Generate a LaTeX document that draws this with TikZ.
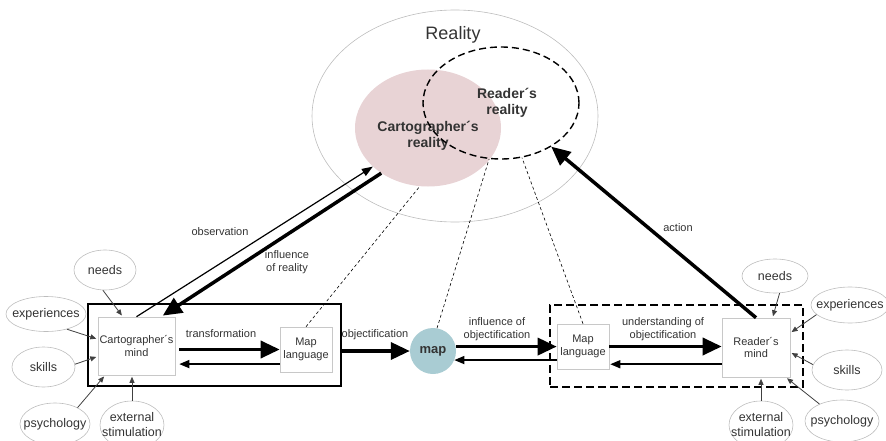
\documentclass[tikz,border=0pt]{standalone}
\usepackage{fontspec}
\setmainfont{Liberation Sans}
\usetikzlibrary{shapes.geometric,arrows.meta}
\definecolor{txt}{HTML}{333333}
\definecolor{ringgrey}{HTML}{BDBDBD}
\definecolor{boxgrey}{HTML}{C8C8C8}
\definecolor{arrgrey}{HTML}{404040}
\definecolor{pinkfill}{HTML}{E8D3D5}
\definecolor{mapfill}{HTML}{A9CCD3}

\begin{document}
\begin{tikzpicture}[x=1pt,y=-1pt,
  lbl/.style={text=txt,font=\fontsize{11}{12.8}\selectfont,align=center,inner sep=0pt},
  boldtxt/.style={text=txt,font=\bfseries\fontsize{14}{16}\selectfont,align=center,inner sep=0pt},
  factor/.style={ellipse,draw=ringgrey,line width=0.6pt,inner sep=0pt},
  factxt/.style={text=txt,font=\fontsize{12.5}{15}\selectfont,align=center,inner sep=0pt},
  mindbox/.style={draw=boxgrey,fill=white,line width=0.6pt,inner sep=0pt,align=center,
    text=txt,font=\fontsize{11}{12.5}\selectfont},
  bigarr/.style={line width=3.5pt,-{Triangle[length=19pt,width=17pt]}},
  backarr/.style={line width=1.5pt,-{Triangle[length=10pt,width=8pt]}},
  obsarr/.style={line width=1.2pt,-{Triangle[length=11pt,width=8pt]}},
  facarr/.style={draw=arrgrey,line width=0.8pt,-{Triangle[length=6pt,width=5pt]},shorten >=1.5pt},
  link/.style={line width=0.6pt,dash pattern=on 3pt off 2.5pt}]
  \useasboundingbox (0,0) rectangle (886,441);

  \node[ellipse,draw=ringgrey,line width=0.6pt,minimum width=286pt,minimum height=212pt] (world) at (455,116) {};
  \node[text=txt,font=\fontsize{18}{20}\selectfont] (worldlbl) at (453,35) {Reality};
  \node[ellipse,fill=pinkfill,minimum width=146pt,minimum height=117pt,
    label={[boldtxt,yshift=-8pt]center:{Cartographer´s\\reality}}] (creal) at (428,128) {};
  \node[ellipse,draw,line width=1.4pt,dash pattern=on 7pt off 4pt,minimum width=156pt,minimum height=112pt,
    label={[boldtxt,xshift=6pt]center:{Reader´s\\reality}}] (rreal) at (501,103) {};

  \node[draw,line width=1.8pt,minimum width=253pt,minimum height=82pt] (cframe) at (214.5,345) {};
  \node[draw,line width=1.8pt,dash pattern=on 8pt off 4pt,minimum width=253pt,minimum height=82pt] (rframe) at (676.5,346) {};

  \node[mindbox,minimum width=77pt,minimum height=58pt] (cmind) at (136.5,346) {Cartographer´s\\mind};
  \node[mindbox,minimum width=52pt,minimum height=45pt] (lmap) at (306,349.5) {Map\\language};
  \node[circle,fill=mapfill,minimum size=46pt,inner sep=0pt,text=txt,font=\bfseries\fontsize{13}{14}\selectfont] (map) at (433,351) {map};
  \node[mindbox,minimum width=52pt,minimum height=45pt] (rmap) at (583,346.5) {Map\\language};
  \node[mindbox,minimum width=68pt,minimum height=59pt] (rmind) at (756,347.5) {Reader´s\\mind};

  \node[factor,minimum width=62pt,minimum height=40pt,label={[factxt]center:needs}] (cneeds) at (105,270) {};
  \node[factor,minimum width=80pt,minimum height=35pt,label={[factxt]center:experiences}] (cexp) at (46,314) {};
  \node[factor,minimum width=63pt,minimum height=40pt,label={[factxt]center:skills}] (cskills) at (43.5,367) {};
  \node[factor,minimum width=70pt,minimum height=42pt,label={[factxt]center:psychology}] (cpsy) at (55,424) {};
  \node[factor,minimum width=64pt,minimum height=48pt,label={[factxt]center:{external\\stimulation}}] (cext) at (132,425) {};
  \node[factor,minimum width=66pt,minimum height=34pt,label={[factxt]center:needs}] (rneeds) at (775,276) {};
  \node[factor,minimum width=78pt,minimum height=36pt,label={[factxt]center:experiences}] (rexp) at (850,305) {};
  \node[factor,minimum width=70pt,minimum height=40pt,label={[factxt]center:skills}] (rskills) at (847,370) {};
  \node[factor,minimum width=74pt,minimum height=42pt,label={[factxt]center:psychology}] (rpsy) at (842,421) {};
  \node[factor,minimum width=64pt,minimum height=48pt,label={[factxt]center:{external\\stimulation}}] (rext) at (761,425) {};

  \draw[link] (lmap.north) -- (creal.262);
  \draw[link] (map.80) -- (rreal.258);
  \draw[link] (rmap.north) -- (rreal.291);

  \draw[facarr] (cneeds.-96) -- (cmind.115);
  \draw[facarr] (cexp.-36) -- (cmind.170);
  \draw[facarr] (cskills.5) -- (cmind.195);
  \draw[facarr] (cpsy.36) -- (cmind.223);
  \draw[facarr] (cext.north) -- (cext.north |- cmind.south);
  \draw[facarr] (rneeds.-75) -- (rmind.61);
  \draw[facarr] (rexp.196) -- (rmind.23);
  \draw[facarr] (rskills.171) -- (rmind.-8);
  \draw[facarr] (rpsy.143) -- (rmind.-45);
  \draw[facarr] (rext.north) -- (rext.north |- rmind.south);

  \draw[bigarr,shorten <=4pt] (cmind.east |- lmap.west) -- (lmap.west);
  \draw[backarr,shorten >=4pt] (lmap.209) -- (lmap.209 -| cmind.east);
  \draw[bigarr] (cframe.east |- map.west) -- (map.west);
  \draw[bigarr] (map.11) -- (map.11 -| rmap.west);
  \draw[backarr] (map.-23 -| rmap.west) -- (map.-23);
  \draw[bigarr] (rmap.east) -- (rmap.east -| rmind.west);
  \draw[backarr,shorten >=1pt] (rmind.206) -- (rmind.206 -| rmap.east);
  \draw[obsarr] (cmind.north) -- (creal.215);
  \draw[bigarr,shorten >=2pt] (creal.224) -- (cmind.50);
  \draw[bigarr] (rmind.north) -- (rreal.-41);

  \node[lbl] (obslbl) at (220,232) {observation};
  \node[lbl] (inflbl) at (287,262) {influence\\of reality};
  \node[lbl] (translbl) at (221,334) {transformation};
  \node[lbl] (objlbl) at (375,335) {objectification};
  \node[lbl] (infobjlbl) at (497,329.5) {influence of\\objectification};
  \node[lbl] (undlbl) at (663,329.5) {understanding of\\objectification};
  \node[lbl] (actlbl) at (678,228) {action};
\end{tikzpicture}
\end{document}
